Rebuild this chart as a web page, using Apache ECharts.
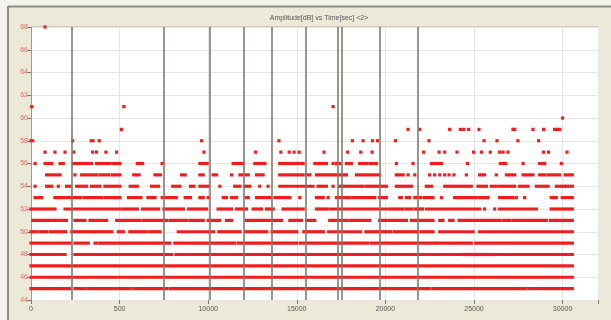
<!DOCTYPE html>
<html><head><meta charset="utf-8">
<style>html,body{margin:0;padding:0;background:#f4f3ee;}#c{width:611px;height:320px;}</style>
<script src="https://cdn.jsdelivr.net/npm/echarts@6/dist/echarts.min.js"></script>
</head><body><div id="c"></div>
<script>
// Time (sec) runs [start,end] or single points per amplitude level (dB)
const levels = [45,46,47,48,49,50,51,52,53,54,55,56,57,58,59,60,61,68];
const lvl45 = [[0,2200],[2480,3050],[3230,5580],[5770,7650],[7840,13600],[13750,17300],[17450,22500],[22690,27950],[28140,29080],[29180,30550]];
const lvl46 = [[0,30550]];
const lvl47 = [[0,29080],[29230,30550]];
const lvl48 = [[0,1920],[2480,7930],[8180,24290],[24420,25980],[26070,30550]];
const lvl49 = [[0,1170],[1350,2200],[2480,3230],[3610,3700],[3890,7840],[8120,11500],[11700,15000],[15200,19000],[19200,22840],[22970,24850],[25100,30550]];
const lvl50 = [[0,300],[500,900],[1100,1500],[1600,1950],[2300,2800],[2950,3600],[3700,4550],[4930,5210],[5580,6520],[6710,7280],[8310,10300],[10600,11800],[12100,13300],[13600,15000],[15400,16500],[16800,18600],[18900,20300],[20500,21840],[22030,22690],[23070,24950],[25320,27950],[28100,30550]];
const lvl51 = [[100,600],[700,1300],[1400,2000],[2480,3050],[3330,4270],[4830,6150],[6340,7650],[7840,8780],[8970,9720],[10000,10660],[11030,11320],[12160,14140],[14610,15260],[15550,16020],[16860,17800],[17990,19120],[19680,21190],[21470,22690],[23070,23250],[23630,23820],[24160,26450],[26640,27010],[27200,29080],[29310,30550]];
const lvl52 = [[0,1350],[1920,5020],[5200,6000],[6300,7200],[7500,8600],[8900,9910],[10560,11320],[11600,12160],[12540,13010],[13290,13670],[14230,15360],[16110,16670],[16860,20060],[20250,21000],[21200,21500],[21700,21940],22090,[22310,25320],25600,26170,[26450,28520],[29360,30550]];
const lvl53 = [[230,600],[1350,2800],[3000,4000],[4200,5020],[5500,6200],[6600,7000],[7400,8200],[8700,9000],[9530,9720],10000,[10850,11030],[11320,11600],[12160,12260],[12730,13480],[13760,14610],15170,[16110,16490],16770,[17240,17990],[18180,19400],[19680,20060],[20810,20900],[21190,21370],[21660,22000],[22200,22690],23160,[23910,25130],[25320,25790],[26450,27200],27390,27860,[29360,29650],[29980,30550]];
const lvl54 = [230,[880,1170],1540,[2010,2200],[2580,3140],[3420,3890],[4170,5020],[5600,6000],[6800,7200],[8000,8400],[9000,9200],[9530,10000],10660,[11500,11790],[12070,12350],12910,13380,[14040,15920],[16200,16670],17050,[17430,18740],[18930,20060],[20620,21470],[22310,22600],[23350,24850],[25230,25700],[25980,26260],[26450,27300],[27580,28050],[28520,29180],[29650,30120],[30210,30550]];
const lvl55 = [[880,1640],2480,[2860,3700],[3890,4400],[4600,5020],[5800,6100],[7000,7300],[8500,8700],[9530,9720],[10280,10470],11320,[11790,12260],[12730,13100],[14040,15360],[15550,15730],[16110,17800],[18370,19680],[20620,21000],21280,21660,22500,22780,23070,23350,23590,23870,24570,[25320,25600],26260,[26830,27300],[27770,28330],[28710,28990],[29180,29830],[30150,30550]];
const lvl56 = [230,[790,1170],[1640,1820],[2390,3230],3420,[3700,4460],[4640,5020],[6000,6300],7400,[9530,9940],[11410,11970],[12630,13200],[14040,15360],[16020,16670],17050,[17240,17430],[17800,18080],[18550,18930],[19120,19490],20620,21560,[22600,23160],24630,[26490,26790],27770,[28710,28990],29930];
const lvl57 = [790,1350,1920,2420,3480,3700,4230,4830,9760,12670,14100,14570,14850,15130,16540,17860,18610,19250,22160,23030,23350,24040,24980,25420,25920,26450,26640,26920,28930,29210,30250];
const lvl58 = [[0,100],2350,[3400,3500],3850,9620,13990,18140,18740,19270,19550,20570,22460,25570,26300,27480,28650];
const lvl59 = [5100,21280,21940,23630,24230,24420,24700,25280,27200,27300,28330,28930,29550,29680,29830];
const lvl60 = [30000];
const lvl61 = [40,5240,17050];
const lvl68 = [790];
const runsByLevel = [lvl45,lvl46,lvl47,lvl48,lvl49,lvl50,lvl51,lvl52,lvl53,lvl54,lvl55,lvl56,lvl57,lvl58,lvl59,lvl60,lvl61,lvl68];
const markerTimes = [2310,7500,10100,12010,13570,15510,17330,17560,19680,21840];
const xTickValues = [0,5000,10000,15000,20000,25000,30000];
const xTickLabels = ['0','500','10000','15000','20000','25000','30000'];
const titleText = 'Amplitude[dB] vs Time[sec] <2>';

const data = [];
levels.forEach((lv, i) => {
  runsByLevel[i].forEach(r => {
    if (Array.isArray(r)) data.push([lv, r[0], r[1]]);
    else data.push([lv, r, r]);
  });
});

const RED = '#f21c1c';
const chart = echarts.init(document.getElementById('c'), null, {renderer:'canvas'});
chart.setOption({
  animation:false,
  backgroundColor:'#f4f3ee',
  graphic:[
    {type:'rect', shape:{x:8,y:6,width:603,height:314}, style:{fill:'#ece9d8'}, z:-10},
    {type:'line', shape:{x1:8,y1:6.5,x2:611,y2:6.5}, style:{stroke:'#8d8c80',lineWidth:2}, z:-9},
    {type:'line', shape:{x1:8,y1:6,x2:8,y2:320}, style:{stroke:'#8d8c80',lineWidth:2}, z:-9},
    {type:'line', shape:{x1:31,y1:26.5,x2:598,y2:26.5}, style:{stroke:'#cfcbb0',lineWidth:1}, z:-9}
  ],
  title:{text:titleText, left:314, top:10, textAlign:'center',
    textStyle:{fontSize:7, fontWeight:'normal', color:'#555', fontFamily:'Liberation Sans'}},
  grid:{left:31, right:13, top:27, bottom:20, show:true, backgroundColor:'#fff', borderWidth:0},
  xAxis:{type:'value', min:0, max:32000, interval:5000,
    axisLine:{show:false},
    axisTick:{show:true, length:4, lineStyle:{color:'#777'}},
    axisLabel:{fontSize:7, color:'#555', fontFamily:'Liberation Sans', margin:6,
      formatter:v => { const k = xTickValues.indexOf(v); return k>=0 ? xTickLabels[k] : ''; }},
    splitLine:{show:true, lineStyle:{color:'#e6e6e6', width:1}}},
  yAxis:{type:'value', min:44, max:68, interval:2,
    axisLine:{show:true, lineStyle:{color:'#9a9a90', width:1}},
    axisTick:{show:true, length:4, lineStyle:{color:'#777'}},
    axisLabel:{fontSize:7, color:'#ee6666', fontFamily:'Liberation Sans', margin:3},
    splitLine:{show:true, lineStyle:{color:'#e6e6e6', width:1}}},
  series:[
    {type:'custom', data:data, encode:{x:[1,2], y:0}, z:3,
      renderItem:(params, api) => {
        const lv = api.value(0), a = api.value(1), b = api.value(2);
        const p1 = api.coord([a, lv]), p2 = api.coord([b, lv]);
        return {type:'rect', shape:{x:p1[0]-1.6, y:p1[1]-1.6, width:p2[0]-p1[0]+3.2, height:3.2},
          style:{fill:RED}};
      }},
    {type:'line', data:[], symbol:'none', z:4,
      markLine:{silent:true, symbol:'none', label:{show:false},
        lineStyle:{color:'#7c7c6c', width:1.6, type:'solid'},
        data: markerTimes.map(t => ({xAxis:t}))}}
  ]
});
</script></body></html>
